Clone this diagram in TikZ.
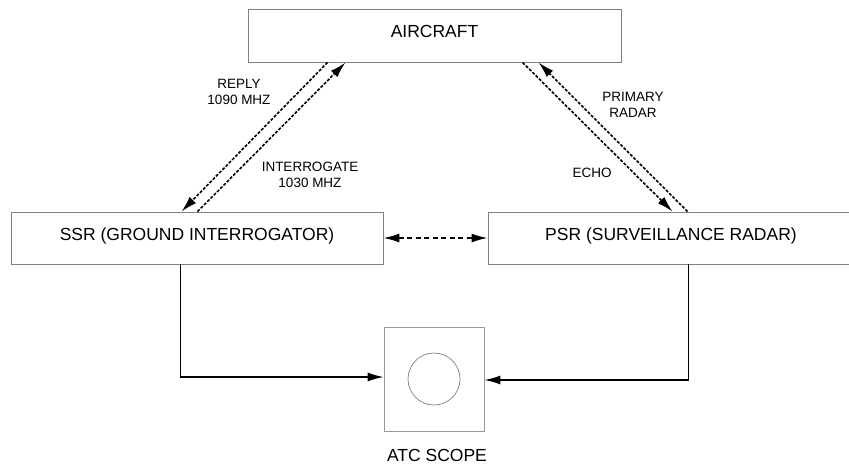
\documentclass[tikz,border=0pt]{standalone}
\usepackage{fontspec}
\setmainfont{Liberation Sans}
\usetikzlibrary{arrows.meta,calc}

\tikzset{
  x=1pt, y=-1pt,
  tip/.tip={Latex[length=16pt,width=9pt]},
  unitbox/.style={draw=black!50, line width=0.9pt, inner sep=0pt,
    font=\fontsize{17.5}{19}\selectfont, text height=12.5pt, text depth=8pt},
  sigline/.style={line width=1.6pt, dash pattern=on 3pt off 1.6pt, -tip},
  linkline/.style={line width=1.5pt, dash pattern=on 5pt off 3.5pt, tip-tip},
  wire/.style={line width=1.3pt, -tip},
  smalltxt/.style={font=\fontsize{13.5}{15.5}\selectfont, align=center, inner sep=0pt},
  bigtxt/.style={font=\fontsize{17.5}{19}\selectfont, inner sep=0pt}
}

\begin{document}
\begin{tikzpicture}
\useasboundingbox (0,0) rectangle (849,467);
\clip (0,0) rectangle (849,467);

% units
\node[unitbox, minimum width=373pt, minimum height=53pt] (air) at (434.5,35.5) {AIRCRAFT};
\node[unitbox, minimum width=372pt, minimum height=52pt] (ssr) at (197,238) {SSR (GROUND INTERROGATOR)};
\node[unitbox, minimum width=366pt, minimum height=52pt] (psr) at (671,238) {PSR (SURVEILLANCE RADAR)};
\node[draw=black!40, line width=0.9pt, minimum width=100pt, minimum height=104pt, inner sep=0pt] (scope) at (434,379) {};
\node[draw=black!50, line width=0.7pt, circle, minimum size=52pt, inner sep=0pt] (tube) at (scope.center) {};
\node[bigtxt] (scopelbl) at (437,455) {ATC SCOPE};

% radio paths
\draw[sigline] ([xshift=80pt]air.south west) -- ([xshift=171pt]ssr.north west);
\draw[sigline] ([xshift=187pt]ssr.north west) -- ([xshift=98pt]air.south west);
\draw[sigline] ([xshift=275pt]air.south west) -- ([xshift=185pt]psr.north west);
\draw[sigline] ([xshift=200pt]psr.north west) -- ([xshift=291pt]air.south west);
\draw[linkline] (ssr.east) -- (psr.west);

% signal labels
\node[smalltxt] (replylbl) at (239,92) {REPLY\\1090 MHZ};
\node[smalltxt] (interlbl) at (310,175) {INTERROGATE\\1030 MHZ};
\node[smalltxt] (primlbl) at (633,105) {PRIMARY\\RADAR};
\node[smalltxt] (echolbl) at (592,173) {ECHO};

% display feeds
\draw[wire] ([xshift=170pt]ssr.south west) |- ([yshift=2pt]scope.west);
\draw[wire] ([xshift=201pt]psr.south west) |- ([yshift=-1pt]scope.east);
\end{tikzpicture}
\end{document}
